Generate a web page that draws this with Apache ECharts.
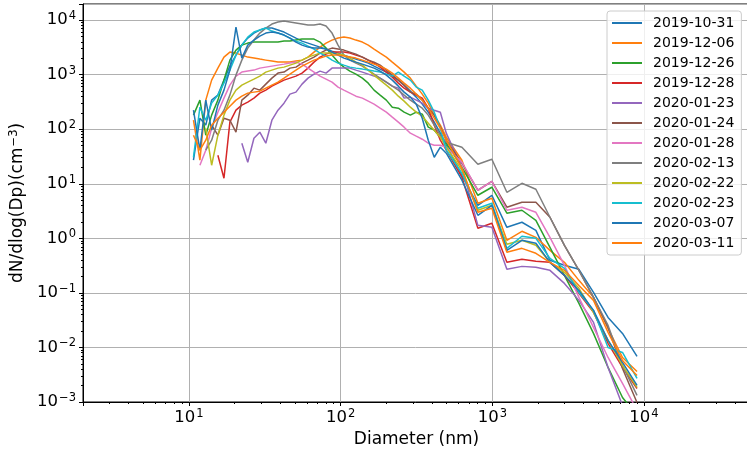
<!DOCTYPE html>
<html><head><meta charset="utf-8">
<script src="https://cdn.jsdelivr.net/npm/echarts@6/dist/echarts.min.js"></script>
<style>html,body{margin:0;padding:0;background:#fff}#c{width:747px;height:454px}</style>
</head><body><div id="c"></div>
<script>
// Diameter bins (nm): SMPS part followed by APS part
const diameters = [10.7, 11.8, 12.9, 14.1, 15.5, 17.0, 18.6, 20.4, 22.3, 24.4, 26.8, 29.3, 32.1, 35.2, 38.6, 42.3, 46.3, 50.7, 55.6, 60.9, 66.7, 73.1, 80.1, 87.7, 96.1, 105, 115, 126, 139, 152, 166, 182, 200, 219, 240, 262, 288, 315, 345, 378, 414, 454, 497,
  630, 803, 993, 1247, 1567, 1937, 2399, 2988, 3724, 4646, 5795, 7215, 8995];

const d20191031 = [27.0, 159, 119, 341, 421, 793, 1432, 2280, 3478, 4675, 5774, 6554, 7132, 7132, 6554, 6023, 5306, 4675, 4118, 3785, 3478, 3196, 2937, 2699, 2481, 2280, 2095, 1925, 1769, 1626, 1432, 1262, 1112, 939, 793, 642, 498, 387, 288, 205, 134.5, 84.5, 50.9,
  14.3, 4.03, 6.15, 1.59, 1.97, 1.40, 0.395, 0.320, 0.270, 0.102, 0.0355, 0.0181, 0.00684];
const d20191206 = [146, 27.0, 341, 793, 1316, 2095, 2588, 2481, 2280, 2095, 2008, 1925, 1845, 1769, 1696, 1696, 1696, 1769, 1845, 2095, 2588, 3196, 3785, 4296, 4675, 4876, 4675, 4296, 3948, 3478, 2937, 2481, 2095, 1696, 1373, 1112, 863, 615, 439, 300, 181, 118.5, 71.3,
  27.0, 4.39, 5.42, 0.919, 1.345, 1.043, 0.602, 0.363, 0.1696, 0.0827, 0.0223, 0.00655, 0.00363];
const d20191226 = [181, 341, 77.6, 181, 341, 793, 1845, 2816, 3478, 3785, 3948, 3948, 3948, 3948, 3948, 4118, 4118, 4296, 4481, 4481, 4481, 3948, 3064, 2280, 1696, 1373, 1160, 1021, 863, 698, 520, 421, 341, 253, 243, 205, 181, 205, 189, 108.9, 95.9, 71.3, 55.4,
  20.1, 6.15, 8.63, 2.88, 3.27, 2.14, 0.684, 0.2095, 0.0642, 0.0181, 0.0043, 0.00121, 0.000565];
const d20191228 = [null, null, null, null, 33.3, 12.6, 134.5, 223, 276, 313, 371, 458, 520, 615, 698, 793, 863, 939, 1066, 1316, 1696, 2095, 2378, 2588, 2588, 2588, 2481, 2280, 2095, 1845, 1626, 1373, 1112, 900, 698, 565, 478, 421, 371, 243, 118.5, 62.8, 41.2,
  13.2, 1.53, 1.89, 0.363, 0.412, 0.379, 0.363, 0.2095, 0.0979, 0.0439, 0.0119, 0.0043, 0.00177];
const d20200123 = [null, null, null, null, null, null, null, null, 55.4, 24.8, 68.4, 88.1, 55.4, 146, 223, 300, 439, 478, 670, 863, 1021, 1160, 1066, 1316, 1316, 1316, 1316, 1210, 1112, 1021, 939, 863, 729, 615, 565, 371, 387, 341, 300, 243, 223, 205, 84.5,
  20.1, 1.73, 1.59, 0.270, 0.306, 0.294, 0.259, 0.149, 0.0729, 0.0288, 0.0043, 0.00086, 0.0002];
const d20200124 = [null, null, null, 118.5, 77.6, 159, 146, 88.1, 341, 421, 565, 520, 670, 863, 1066, 1112, 1316, 1373, 1626, 1845, 2095, 2481, 2816, 3064, 2937, 2816, 2588, 2378, 2095, 1845, 1696, 1494, 1210, 979, 793, 642, 478, 439, 341, 243, 181, 108.9, 62.8,
  23.8, 7.60, 11.1, 3.71, 4.58, 4.58, 2.43, 0.744, 0.259, 0.0827, 0.0233, 0.00412, 0.00098];
const d20200128 = [null, 21.85, 41.2, 104, 205, 371, 642, 939, 1112, 1160, 1210, 1316, 1373, 1432, 1494, 1558, 1626, 1696, 1558, 1316, 1112, 939, 827, 729, 590, 520, 458, 403, 371, 327, 288, 243, 205, 166, 134.5, 108.9, 84.5, 74.4, 65.5, 55.4, 50.9, 50.9, 46.8,
  24.8, 7.60, 11.1, 3.27, 3.71, 3.00, 1.04, 0.320, 0.0827, 0.0233, 0.00655, 0.00219, 0.0007];
const d20200213 = [null, null, 41.2, 62.8, 146, 223, 421, 979, 1845, 3064, 4296, 5774, 7132, 8445, 9189, 9586, 9189, 8809, 8445, 8096, 8096, 8445, 7761, 5774, 3478, 2280, 1845, 1626, 1432, 1210, 1021, 863, 729, 615, 520, 421, 341, 288, 243, 181, 118.5, 77.6, 57.7,
  46.8, 22.8, 28.2, 6.98, 10.2, 7.93, 2.43, 0.744, 0.259, 0.0827, 0.0253, 0.00468, 0.00132];
const d20200222 = [null, null, 104, 21.85, 77.6, 181, 341, 520, 642, 729, 827, 939, 1112, 1210, 1316, 1373, 1494, 1626, 1845, 2095, 2280, 2481, 2481, 2481, 2378, 2280, 2008, 1696, 1494, 1210, 979, 793, 642, 520, 403, 327, 253, 205, 173, 129, 95.9, 71.3, 46.8,
  17.7, 3.27, 4.03, 0.776, 0.919, 0.744, 0.363, 0.238, 0.121, 0.0439, 0.01345, 0.00468, 0.00185];
const d20200223 = [30.6, 253, 146, 300, 421, 698, 1210, 2280, 3478, 4876, 6023, 6554, 7132, 6283, 5774, 5306, 4675, 4118, 3785, 3334, 2937, 2481, 2185, 1845, 1626, 1494, 1373, 1316, 1262, 1210, 1160, 1112, 1021, 939, 1112, 939, 793, 590, 520, 341, 205, 104, 41.2,
  15.6, 3.55, 4.39, 0.655, 1.09, 1.0, 0.430, 0.282, 0.102, 0.0478, 0.01, 0.0081, 0.0027];
const d20200307 = [223, 41.2, 341, 95.9, 276, 520, 1210, 7440, 2008, 3478, 4296, 5087, 5774, 6023, 5774, 5306, 4675, 3948, 3478, 3196, 3064, 3064, 2937, 2588, 2280, 2008, 1845, 1696, 1558, 1432, 1316, 1160, 979, 793, 615, 478, 387, 288, 159, 62.8, 30.6, 46.8, 36.3,
  11.6, 2.64, 4.03, 0.602, 0.919, 0.810, 0.363, 0.2095, 0.111, 0.0478, 0.01345, 0.00531, 0.00201];
const d20200311 = [77.6, 41.2, 62.8, 118.5, 159, 205, 264, 341, 403, 458, 478, 498, 565, 642, 729, 863, 1021, 1210, 1432, 1626, 1845, 2008, 2185, 2280, 2280, 2185, 2095, 2008, 1845, 1696, 1558, 1432, 1262, 1066, 863, 698, 565, 439, 341, 243, 159, 104, 62.8,
  19.3, 3.00, 3.55, 0.554, 0.655, 0.531, 0.363, 0.259, 0.137, 0.0729, 0.0189, 0.00577, 0.00306];

const seriesNames = ['2019-10-31', '2019-12-06', '2019-12-26', '2019-12-28', '2020-01-23', '2020-01-24', '2020-01-28', '2020-02-13', '2020-02-22', '2020-02-23', '2020-03-07', '2020-03-11'];
const seriesValues = [d20191031, d20191206, d20191226, d20191228, d20200123, d20200124, d20200128, d20200213, d20200222, d20200223, d20200307, d20200311];
const colors = ['#1f77b4', '#ff7f0e', '#2ca02c', '#d62728', '#9467bd', '#8c564b', '#e377c2', '#7f7f7f', '#bcbd22', '#17becf', '#1f77b4', '#ff7f0e'];

const FONT = 'DejaVu Sans';
function powLabel(v) {
  const e = Math.log10(v);
  const r = Math.round(e);
  if (Math.abs(e - r) > 1e-6) return '';
  return '10{sup|' + (r < 0 ? '\u2212' + (-r) : String(r)) + '}';
}
const supRich = {
  sup: { fontSize: 11.5, fontFamily: FONT, color: '#000', verticalAlign: 'bottom', padding: [0, 0, 8, 1] }
};

const chart = echarts.init(document.getElementById('c'), null, { renderer: 'canvas' });
chart.setOption({
  animation: false,
  backgroundColor: '#fff',
  textStyle: { fontFamily: FONT },
  grid: { left: 83, top: 4, width: 667, height: 398, show: true, borderColor: '#000', borderWidth: 1, backgroundColor: 'transparent', containLabel: false, outerBoundsMode: 'none' },
  xAxis: {
    type: 'log', logBase: 10, min: 2, max: 50000,
    name: 'Diameter (nm)', nameLocation: 'middle', nameGap: 29,
    nameTextStyle: { fontSize: 17, color: '#000', fontFamily: FONT },
    axisLine: { show: true, onZero: false, lineStyle: { color: '#000', width: 1 } },
    axisTick: { show: true, length: 4, inside: false, lineStyle: { color: '#000' } },
    minorTick: { show: true, splitNumber: 9, length: 2, lineStyle: { color: '#000' } },
    axisLabel: { formatter: powLabel, color: '#000', fontSize: 16.5, fontFamily: FONT, margin: 6, rich: supRich, showMinLabel: true, showMaxLabel: true },
    splitLine: { show: true, lineStyle: { color: '#b0b0b0', width: 1 } }
  },
  yAxis: {
    type: 'log', logBase: 10, min: 0.001, max: 19700,
    name: 'dN/dlog(Dp)(cm{sup|\u22123})', nameLocation: 'middle', nameGap: 42,
    nameTextStyle: { fontSize: 17, color: '#000', fontFamily: FONT, rich: supRich },
    axisLine: { show: true, onZero: false, lineStyle: { color: '#000', width: 1 } },
    axisTick: { show: true, length: 4, inside: false, lineStyle: { color: '#000' } },
    minorTick: { show: true, splitNumber: 9, length: 2, lineStyle: { color: '#000' } },
    axisLabel: { formatter: powLabel, color: '#000', fontSize: 16.5, fontFamily: FONT, margin: 7, rich: supRich },
    splitLine: { show: true, lineStyle: { color: '#b0b0b0', width: 1 } }
  },
  legend: {
    orient: 'vertical', left: 607, top: 11,
    padding: [5, 7, 5, 5], itemGap: 6, itemWidth: 30, itemHeight: 2, icon: 'rect',
    backgroundColor: 'rgba(255,255,255,0.8)', borderColor: '#cccccc', borderWidth: 1, borderRadius: 3,
    textStyle: { fontSize: 14, color: '#000', fontFamily: FONT, padding: [0, 0, 0, 6] },
    data: seriesNames
  },
  series: seriesNames.map((name, i) => ({
    name: name,
    type: 'line',
    showSymbol: false,
    symbol: 'none',
    clip: true,
    color: colors[i],
    lineStyle: { width: 1.5, color: colors[i] },
    itemStyle: { color: colors[i] },
    emphasis: { disabled: true },
    data: diameters.map((d, k) => [d, seriesValues[i][k]]).filter(p => p[1] != null)
  }))
});
</script></body></html>
